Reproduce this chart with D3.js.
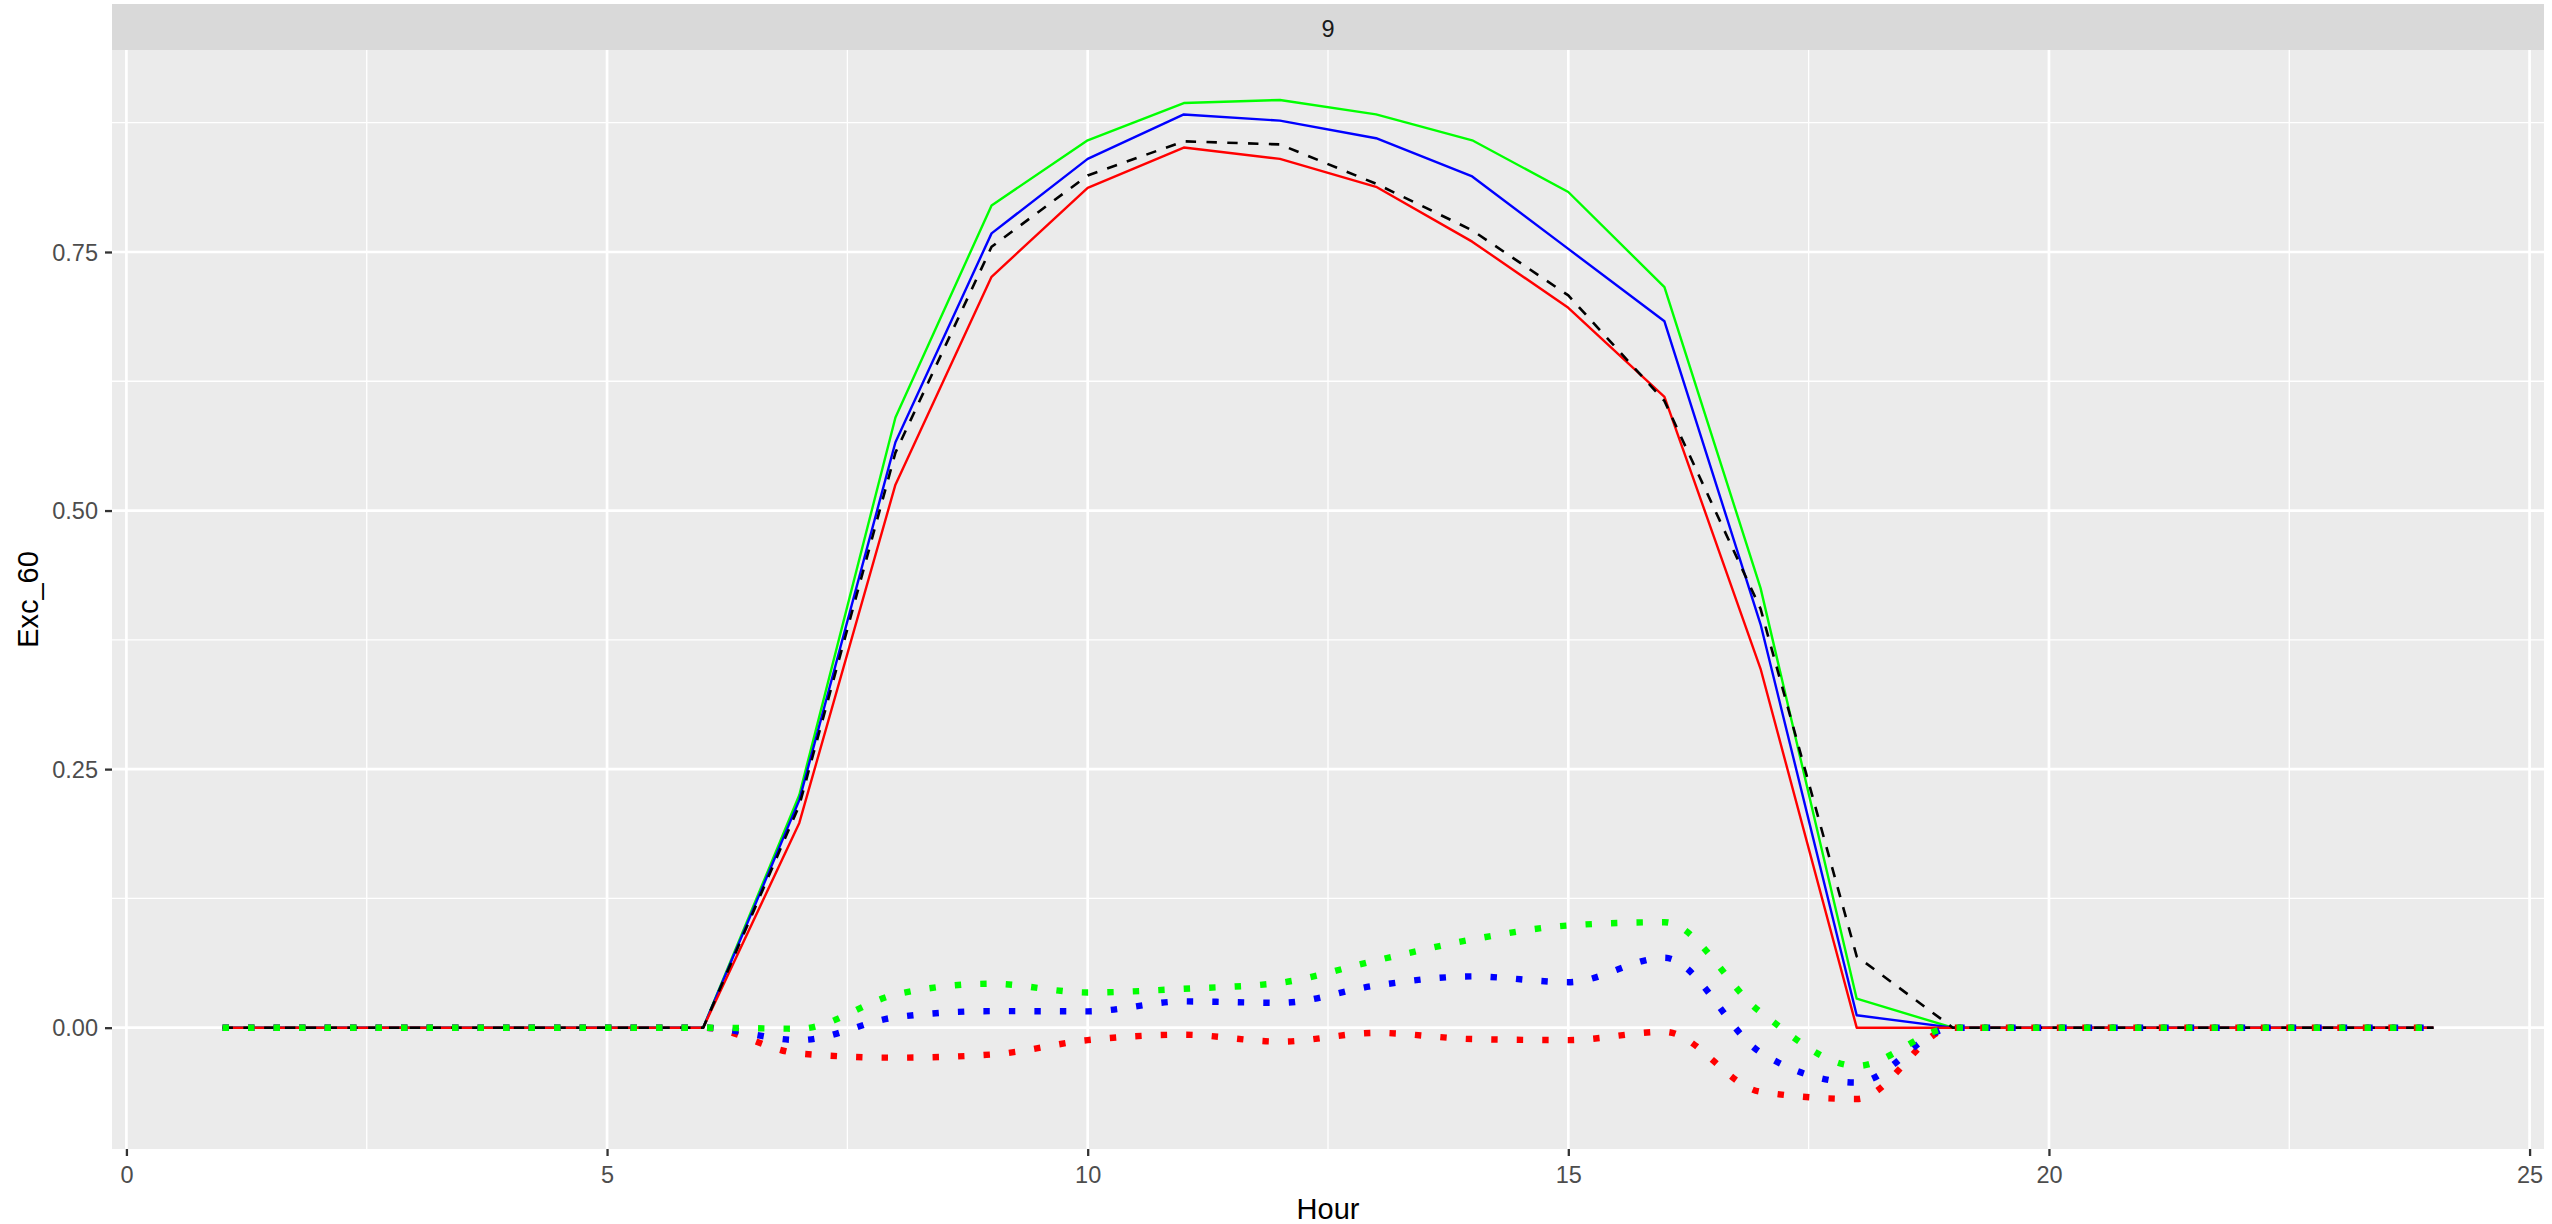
<!DOCTYPE html>
<html>
<head>
<meta charset="utf-8">
<script src="https://cdn.jsdelivr.net/npm/d3@7"></script>
<style>
  body { margin: 0; background: #fff; }
  svg { display: block; font-family: "Liberation Sans", Arial, sans-serif; }
</style>
</head>
<body>
<svg id="chart" width="2552" height="1224"></svg>
<script>
// facet label
const facetLabel = "9"

// hours of the day
const hours = [1, 2, 3, 4, 5, 6, 7, 8, 9, 10, 11, 12, 13, 14, 15, 16, 17, 18, 19, 20, 21, 22, 23, 24]

// solid lines
const excGreen = [0, 0, 0, 0, 0, 0, 0.225, 0.590, 0.795, 0.858, 0.894, 0.897, 0.883, 0.858, 0.808, 0.716, 0.425, 0.028, 0, 0, 0, 0, 0, 0]
const excBlue = [0, 0, 0, 0, 0, 0, 0.220, 0.566, 0.768, 0.840, 0.883, 0.877, 0.860, 0.823, 0.753, 0.683, 0.390, 0.012, 0, 0, 0, 0, 0, 0]
const excRed = [0, 0, 0, 0, 0, 0, 0.198, 0.525, 0.726, 0.812, 0.851, 0.840, 0.813, 0.760, 0.696, 0.610, 0.347, 0, 0, 0, 0, 0, 0, 0]
// dashed black line
const excBlack = [0, 0, 0, 0, 0, 0, 0.215, 0.556, 0.755, 0.824, 0.857, 0.854, 0.816, 0.771, 0.708, 0.606, 0.405, 0.069, 0, 0, 0, 0, 0, 0]

// dotted lines (differences)
const diffGreen = [0, 0, 0, 0, 0, 0, -0.001, 0.032, 0.0425, 0.034, 0.0376, 0.0434, 0.065, 0.0853, 0.0988, 0.102, 0.015, -0.037, 0, 0, 0, 0, 0, 0]
const diffBlue = [0, 0, 0, 0, 0, 0, -0.012, 0.010, 0.016, 0.0158, 0.0254, 0.024, 0.0408, 0.0496, 0.044, 0.0676, -0.024, -0.053, 0, 0, 0, 0, 0, 0]
const diffRed = [0, 0, 0, 0, 0, 0, -0.025, -0.029, -0.026, -0.012, -0.0068, -0.0135, -0.005, -0.011, -0.012, -0.004, -0.062, -0.069, 0, 0, 0, 0, 0, 0]

const xTicks = [0, 5, 10, 15, 20, 25]
const yTicks = [0, 0.25, 0.5, 0.75]

// drawing order: bottom to top
const series = [
    {values: excGreen, color: "#00FF00", width: 2.4, dash: null, smooth: false},
    {values: excBlue, color: "#0000FF", width: 2.4, dash: null, smooth: false},
    {values: excRed, color: "#FF0000", width: 2.4, dash: null, smooth: false},
    {values: excBlack, color: "#000000", width: 2.6, dash: "10.4,10.4", smooth: false},
    {values: diffRed, color: "#FF0000", width: 6.4, dash: "6.4,19.1", smooth: true},
    {values: diffBlue, color: "#0000FF", width: 6.4, dash: "6.4,19.1", smooth: true},
    {values: diffGreen, color: "#00FF00", width: 6.4, dash: "6.4,19.1", smooth: true}
]

const svg = d3.select("#chart")

const panel = {left: 112, right: 2544, top: 50, bottom: 1149}
const strip = {top: 4, bottom: 50}

// ggplot style 5% expansion
const allVals = series.flatMap(s => s.values)
const yMin = d3.min(allVals), yMax = d3.max(allVals)
const yPad = (yMax - yMin) * 0.05
const xPad = (d3.max(hours) - d3.min(hours)) * 0.05

const x = d3.scaleLinear()
    .domain([d3.min(hours) - xPad, d3.max(hours) + xPad])
    .range([panel.left, panel.right])
const y = d3.scaleLinear()
    .domain([yMin - yPad, yMax + yPad])
    .range([panel.bottom, panel.top])

// strip
svg.append("rect")
    .attr("x", panel.left).attr("y", strip.top)
    .attr("width", panel.right - panel.left).attr("height", strip.bottom - strip.top)
    .attr("fill", "#D9D9D9")
svg.append("text")
    .attr("x", (panel.left + panel.right) / 2).attr("y", 37)
    .attr("text-anchor", "middle")
    .attr("font-size", 23.5)
    .attr("fill", "#1A1A1A")
    .text(facetLabel)

// panel background
svg.append("rect")
    .attr("x", panel.left).attr("y", panel.top)
    .attr("width", panel.right - panel.left).attr("height", panel.bottom - panel.top)
    .attr("fill", "#EBEBEB")

const grid = svg.append("g")
const xMinor = d3.range(2.5, 25, 5)
const yMinor = [-0.125, 0.125, 0.375, 0.625, 0.875].filter(v => v >= y.domain()[0] && v <= y.domain()[1])

grid.selectAll(".xminor").data(xMinor).enter().append("line")
    .attr("x1", d => x(d)).attr("x2", d => x(d))
    .attr("y1", panel.top).attr("y2", panel.bottom)
    .attr("stroke", "#fff").attr("stroke-width", 1.3)
grid.selectAll(".yminor").data(yMinor).enter().append("line")
    .attr("x1", panel.left).attr("x2", panel.right)
    .attr("y1", d => y(d)).attr("y2", d => y(d))
    .attr("stroke", "#fff").attr("stroke-width", 1.3)
grid.selectAll(".xmajor").data(xTicks).enter().append("line")
    .attr("x1", d => x(d)).attr("x2", d => x(d))
    .attr("y1", panel.top).attr("y2", panel.bottom)
    .attr("stroke", "#fff").attr("stroke-width", 2.7)
grid.selectAll(".ymajor").data(yTicks).enter().append("line")
    .attr("x1", panel.left).attr("x2", panel.right)
    .attr("y1", d => y(d)).attr("y2", d => y(d))
    .attr("stroke", "#fff").attr("stroke-width", 2.7)

// lines
const linesG = svg.append("g")
series.forEach(function (s) {
    const line = d3.line()
        .x((d, i) => x(hours[i]))
        .y(d => y(d))
        .curve(s.smooth ? d3.curveMonotoneX : d3.curveLinear)
    linesG.append("path")
        .attr("d", line(s.values))
        .attr("fill", "none")
        .attr("stroke", s.color)
        .attr("stroke-width", s.width)
        .attr("stroke-dasharray", s.dash)
        .attr("stroke-linejoin", "round")
        .attr("stroke-linecap", "butt")
})

// axes
const xAxis = svg.append("g")
    .attr("transform", `translate(0,${panel.bottom})`)
    .call(d3.axisBottom(x).tickValues(xTicks).tickSize(7).tickPadding(10).tickFormat(d3.format("d")))
const yAxis = svg.append("g")
    .attr("transform", `translate(${panel.left},0)`)
    .call(d3.axisLeft(y).tickValues(yTicks).tickSize(7).tickPadding(7).tickFormat(d3.format(".2f")))

;[xAxis, yAxis].forEach(function (a) {
    a.select(".domain").remove()
    a.selectAll(".tick line").attr("stroke", "#333333").attr("stroke-width", 2.3)
    a.selectAll(".tick text")
        .attr("fill", "#4D4D4D")
        .attr("font-size", 23.5)
        .attr("font-family", "Liberation Sans, Arial, sans-serif")
})
xAxis.selectAll(".tick text").attr("dy", "0.71em")
yAxis.selectAll(".tick text").attr("dy", "0.35em")

// axis titles
svg.append("text")
    .attr("x", (panel.left + panel.right) / 2).attr("y", 1219)
    .attr("text-anchor", "middle")
    .attr("font-size", 29)
    .attr("fill", "#000")
    .text("Hour")
svg.append("text")
    .attr("transform", `translate(38,${(panel.top + panel.bottom) / 2}) rotate(-90)`)
    .attr("text-anchor", "middle")
    .attr("font-size", 29)
    .attr("fill", "#000")
    .text("Exc_60")
</script>
</body>
</html>
